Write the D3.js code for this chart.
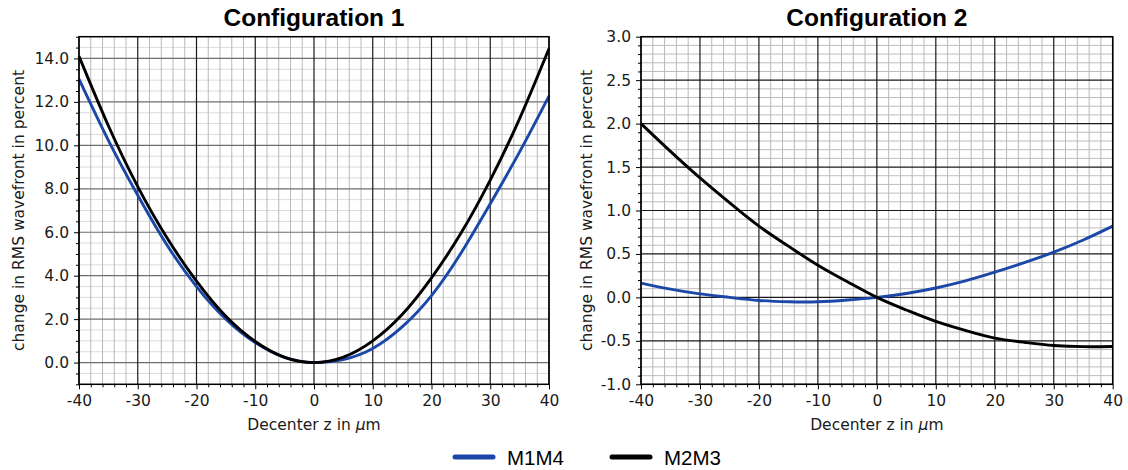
<!DOCTYPE html>
<html>
<head>
<meta charset="utf-8">
<script src="https://cdn.jsdelivr.net/npm/d3@7"></script>
<style>
  html, body { margin: 0; padding: 0; background: #fff; }
  svg { display: block; }
</style>
</head>
<body>
<svg id="chart" width="1128" height="470"></svg>
<script>
// ---------------- DATA ----------------
const decenter = [-40, -35, -30, -25, -20, -15, -10, -5, 0, 5, 10, 15, 20, 25, 30, 35, 40];
const config1_M1M4 = [13.05, 10.23, 7.7, 5.4, 3.5, 2.0, 0.92, 0.24, 0, 0.14, 0.65, 1.64, 3.08, 5.03, 7.31, 9.7, 12.27];
const config1_M2M3 = [14.1, 10.9, 8.1, 5.73, 3.75, 2.13, 0.97, 0.24, 0, 0.25, 1.0, 2.21, 3.9, 5.95, 8.4, 11.23, 14.45];
const config2_M1M4 = [0.165, 0.095, 0.04, 0.0, -0.035, -0.05, -0.05, -0.03, 0, 0.045, 0.108, 0.19, 0.29, 0.40, 0.52, 0.66, 0.82];
const config2_M2M3 = [2.0, 1.68, 1.375, 1.09, 0.82, 0.59, 0.37, 0.18, 0, -0.145, -0.276, -0.38, -0.468, -0.517, -0.553, -0.567, -0.565];

const seriesNames = ["M1M4", "M2M3"];
const seriesColors = ["#1b48a8", "#000000"];
const titles = ["Configuration 1", "Configuration 2"];
const xTicks = [-40, -30, -20, -10, 0, 10, 20, 30, 40];
const yTicks1 = [0, 2, 4, 6, 8, 10, 12, 14];
const yTicks2 = [-1.0, -0.5, 0.0, 0.5, 1.0, 1.5, 2.0, 2.5, 3.0];
const xLabel = "Decenter z in ";
const yLabel = "change in RMS wavefront in percent";

// ---------------- LAYOUT ----------------
const svg = d3.select("#chart");
const panels = [
  { x0: 79, x1: 549, y0: 36.7, y1: 384.3, yDomain: [-1, 15], yTicks: yTicks1,
    xMinorStep: 2, yMinorStep: 0.5, yMajorColor: "#6e6e6e", yMinorColor: "#dcdcdc",
    data: [config1_M1M4, config1_M2M3], title: titles[0], yLabelX: 24 },
  { x0: 641, x1: 1112.7, y0: 36.7, y1: 384.3, yDomain: [-1, 3], yTicks: yTicks2,
    xMinorStep: 2, yMinorStep: 0.1, yMajorColor: "#1a1a1a", yMinorColor: "#bdbdbd",
    data: [config2_M1M4, config2_M2M3], title: titles[1], yLabelX: 592 }
];

const tickFont = "'DejaVu Sans', sans-serif";
const tickSize = 15.5;

function range(a, b, step) {
  const out = [];
  const n = Math.round((b - a) / step);
  for (let i = 0; i <= n; i++) out.push(+(a + i * step).toFixed(6));
  return out;
}

panels.forEach(p => {
  const x = d3.scaleLinear().domain([-40, 40]).range([p.x0, p.x1]);
  const y = d3.scaleLinear().domain(p.yDomain).range([p.y1, p.y0]);
  const g = svg.append("g");

  const xMinor = range(-40, 40, p.xMinorStep).filter(v => !xTicks.includes(v));
  const yMinorAll = range(p.yDomain[0], p.yDomain[1], p.yMinorStep);
  const yMinor = yMinorAll.filter(v => !p.yTicks.some(t => Math.abs(t - v) < 1e-6));

  // grid: horizontal minor
  g.append("g").selectAll("line").data(yMinor).join("line")
    .attr("x1", p.x0).attr("x2", p.x1)
    .attr("y1", d => y(d)).attr("y2", d => y(d))
    .attr("stroke", p.yMinorColor).attr("stroke-width", 1);
  // vertical minor
  g.append("g").selectAll("line").data(xMinor).join("line")
    .attr("x1", d => x(d)).attr("x2", d => x(d))
    .attr("y1", p.y0).attr("y2", p.y1)
    .attr("stroke", "#b9b9b9").attr("stroke-width", 1);
  // horizontal major
  g.append("g").selectAll("line").data(p.yTicks).join("line")
    .attr("x1", p.x0).attr("x2", p.x1)
    .attr("y1", d => y(d)).attr("y2", d => y(d))
    .attr("stroke", p.yMajorColor).attr("stroke-width", 1.2);
  // vertical major
  g.append("g").selectAll("line").data(xTicks).join("line")
    .attr("x1", d => x(d)).attr("x2", d => x(d))
    .attr("y1", p.y0).attr("y2", p.y1)
    .attr("stroke", "#1a1a1a").attr("stroke-width", 1.2);

  // curves
  const line = d3.line()
    .x((d, i) => x(decenter[i]))
    .y(d => y(d))
    .curve(d3.curveNatural);
  p.data.forEach((arr, si) => {
    g.append("path").datum(arr)
      .attr("d", line)
      .attr("fill", "none")
      .attr("stroke", seriesColors[si])
      .attr("stroke-width", 2.9);
  });

  // frame
  g.append("rect")
    .attr("x", p.x0).attr("y", p.y0)
    .attr("width", p.x1 - p.x0).attr("height", p.y1 - p.y0)
    .attr("fill", "none").attr("stroke", "#000").attr("stroke-width", 1.5);

  // axes - major with labels
  const xAxis = d3.axisBottom(x).tickValues(xTicks).tickSize(5).tickPadding(6)
    .tickFormat(d => String(d));
  const gx = g.append("g").attr("transform", `translate(0,${p.y1})`).call(xAxis);
  const xAxisMinor = d3.axisBottom(x).tickValues(xMinor).tickSize(3).tickFormat("");
  const gxm = g.append("g").attr("transform", `translate(0,${p.y1})`).call(xAxisMinor);

  const yAxis = d3.axisLeft(y).tickValues(p.yTicks).tickSize(5).tickPadding(5)
    .tickFormat(d => d.toFixed(1));
  const gy = g.append("g").attr("transform", `translate(${p.x0},0)`).call(yAxis);
  const yAxisMinor = d3.axisLeft(y).tickValues(yMinor).tickSize(3).tickFormat("");
  const gym = g.append("g").attr("transform", `translate(${p.x0},0)`).call(yAxisMinor);

  [gx, gxm, gy, gym].forEach(a => {
    a.select(".domain").remove();
    a.selectAll(".tick line").attr("stroke", "#000").attr("stroke-width", 1);
    a.selectAll("text").attr("font-family", tickFont).attr("font-size", tickSize).attr("fill", "#1a1a1a");
  });

  // title
  g.append("text")
    .attr("x", (p.x0 + p.x1) / 2).attr("y", 26)
    .attr("text-anchor", "middle")
    .attr("font-family", "'Liberation Sans', Arial, sans-serif")
    .attr("font-weight", "bold").attr("font-size", 24.5)
    .attr("fill", "#000")
    .text(p.title);

  // x label
  const xl = g.append("text")
    .attr("x", (p.x0 + p.x1) / 2).attr("y", 430)
    .attr("text-anchor", "middle")
    .attr("font-family", tickFont).attr("font-size", tickSize).attr("fill", "#1a1a1a");
  xl.append("tspan").text(xLabel);
  xl.append("tspan").attr("font-style", "italic").text("\u03bc");
  xl.append("tspan").text("m");

  // y label
  g.append("text")
    .attr("transform", `translate(${p.yLabelX},${(p.y0 + p.y1) / 2}) rotate(-90)`)
    .attr("text-anchor", "middle")
    .attr("font-family", tickFont).attr("font-size", tickSize).attr("fill", "#1a1a1a")
    .text(yLabel);
});

// ---------------- LEGEND ----------------
const legendItems = [
  { name: seriesNames[0], color: seriesColors[0], x: 455 },
  { name: seriesNames[1], color: seriesColors[1], x: 612 }
];
const lg = svg.append("g");
legendItems.forEach(it => {
  lg.append("line")
    .attr("x1", it.x).attr("x2", it.x + 38)
    .attr("y1", 457).attr("y2", 457)
    .attr("stroke", it.color).attr("stroke-width", 5).attr("stroke-linecap", "round");
  lg.append("text")
    .attr("x", it.x + 52).attr("y", 465)
    .attr("font-family", "'Liberation Sans', Arial, sans-serif")
    .attr("font-size", 20.5).attr("fill", "#000")
    .text(it.name);
});
</script>
</body>
</html>
